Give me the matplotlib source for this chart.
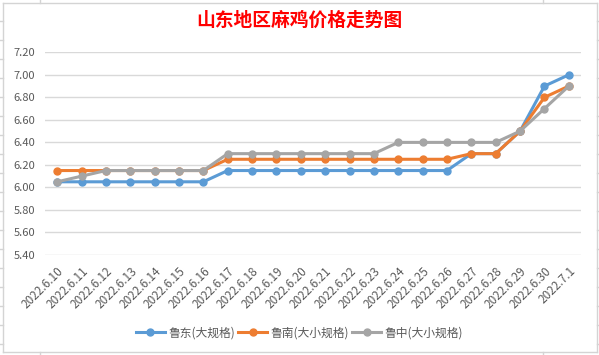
import matplotlib.pyplot as plt
from matplotlib.lines import Line2D

plt.rcParams['font.family'] = ['Noto Sans CJK SC', 'DejaVu Sans']

dates = ['2022.6.10', '2022.6.11', '2022.6.12', '2022.6.13', '2022.6.14', '2022.6.15',
         '2022.6.16', '2022.6.17', '2022.6.18', '2022.6.19', '2022.6.20', '2022.6.21',
         '2022.6.22', '2022.6.23', '2022.6.24', '2022.6.25', '2022.6.26', '2022.6.27',
         '2022.6.28', '2022.6.29', '2022.6.30', '2022.7.1']
ludong = [6.05, 6.05, 6.05, 6.05, 6.05, 6.05, 6.05, 6.15, 6.15, 6.15, 6.15, 6.15,
          6.15, 6.15, 6.15, 6.15, 6.15, 6.30, 6.30, 6.50, 6.90, 7.00]
lunan = [6.15, 6.15, 6.15, 6.15, 6.15, 6.15, 6.15, 6.25, 6.25, 6.25, 6.25, 6.25,
         6.25, 6.25, 6.25, 6.25, 6.25, 6.30, 6.30, 6.50, 6.80, 6.90]
luzhong = [6.05, 6.10, 6.15, 6.15, 6.15, 6.15, 6.15, 6.30, 6.30, 6.30, 6.30, 6.30,
           6.30, 6.30, 6.40, 6.40, 6.40, 6.40, 6.40, 6.50, 6.70, 6.90]
names = ['鲁东(大规格)', '鲁南(大小规格)', '鲁中(大小规格)']
colors = ['#5B9BD5', '#ED7D31', '#A5A5A5']
yticks = [5.4, 5.6, 5.8, 6.0, 6.2, 6.4, 6.6, 6.8, 7.0, 7.2]

W, H = 599, 355
fig = plt.figure(figsize=(W / 100, H / 100), dpi=100)
ax = fig.add_axes([45 / W, 1 - 255 / H, 536 / W, 202.7 / H])

x = range(len(dates))
for vals, c, n in zip([ludong, lunan, luzhong], colors, names):
    ax.plot(x, vals, color=c, lw=2.2, marker='o', ms=5, label=n)

ax.set_xlim(-0.5, len(dates) - 0.5)
ax.set_ylim(5.4, 7.2)
ax.set_yticks(yticks)
ax.set_yticklabels(['%.2f' % v for v in yticks])
ax.set_xticks(list(x))
ax.set_xticklabels(dates, rotation=45, ha='right', rotation_mode='anchor')
ax.tick_params(axis='both', length=0, labelsize=8, colors='#595959')
ax.tick_params(axis='x', pad=7, labelsize=8.5)
ax.tick_params(axis='y', pad=7)
ax.grid(axis='y', color='#D9D9D9', lw=1)
ax.set_axisbelow(True)
for s in ax.spines.values():
    s.set_visible(False)

fig.text(0.5, 1 - 20 / H, '山东地区麻鸡价格走势图', color='red', fontsize=13.5,
         fontweight='bold', ha='center', va='center')

handles = [Line2D([], [], color=c, lw=2.2, marker='o', ms=5) for c in colors]
fig.legend(handles, names, loc='center', bbox_to_anchor=(0.5, 1 - 333 / H), ncol=3,
           frameon=False, fontsize=8.5, handlelength=2.4, handletextpad=0.3,
           columnspacing=0.3, labelcolor='#595959')

# chart border and sheet cell lines around it
def px_line(x0, y0, x1, y1):
    fig.add_artist(Line2D([x0 / W, x1 / W], [1 - y0 / H, 1 - y1 / H],
                          color='#D4D4D4', lw=1, transform=fig.transFigure))

px_line(2.5, 2.5, 597, 2.5)
px_line(2.5, 352, 597, 352)
px_line(2.5, 2.5, 2.5, 352)
px_line(597, 2.5, 597, 352)
for cx in [40, 543]:
    px_line(cx, 0, cx, 2.5)
    px_line(cx, 352, cx, 355)
for ry in [21, 40, 59, 78, 97, 116, 135, 154, 173, 192, 211, 230, 249, 268, 287, 306, 325, 344]:
    px_line(0, ry, 2.5, ry)
    px_line(597, ry, 599, ry)

fig.savefig('out.png', dpi=100)
